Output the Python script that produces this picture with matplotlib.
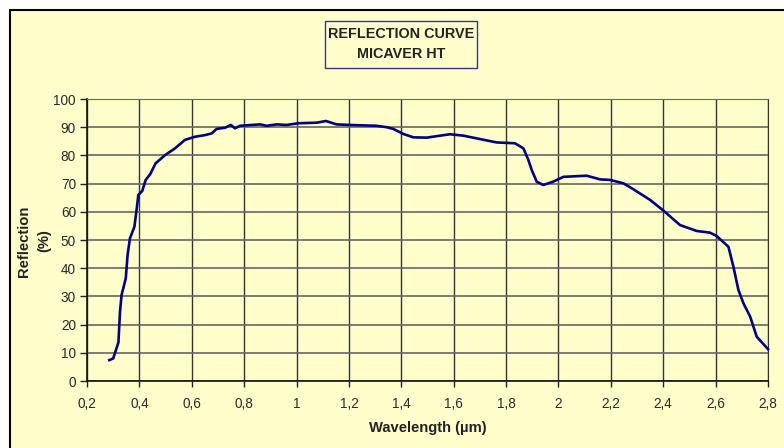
import matplotlib
matplotlib.use("Agg")
import matplotlib.pyplot as plt
from matplotlib.patches import Rectangle

plt.rcParams['font.family'] = ['Liberation Sans', 'DejaVu Sans']

wavelength = [0.285, 0.300, 0.320, 0.326, 0.332, 0.348, 0.355, 0.364, 0.381, 0.390,
              0.396, 0.411, 0.424, 0.441, 0.462, 0.498, 0.536, 0.574, 0.612, 0.651,
              0.676, 0.695, 0.727, 0.749, 0.765, 0.784, 0.861, 0.886, 0.924, 0.962,
              1.007, 1.077, 1.112, 1.153, 1.204, 1.306, 1.344, 1.369, 1.408, 1.446,
              1.497, 1.548, 1.586, 1.637, 1.700, 1.764, 1.834, 1.866, 1.885, 1.898,
              1.917, 1.942, 1.980, 2.019, 2.108, 2.159, 2.197, 2.248, 2.286, 2.350,
              2.401, 2.464, 2.528, 2.579, 2.604, 2.649, 2.668, 2.687, 2.706, 2.732,
              2.757, 2.800]
reflection = [7.4, 8.0, 13.7, 24.6, 30.5, 36.4, 44.7, 50.6, 54.7, 61.2,
              66.0, 67.4, 71.3, 73.3, 77.2, 80.1, 82.5, 85.5, 86.6, 87.2,
              87.8, 89.4, 89.8, 90.8, 89.6, 90.5, 91.0, 90.5, 91.0, 90.8,
              91.4, 91.6, 92.2, 91.0, 90.8, 90.5, 90.0, 89.4, 87.6, 86.4,
              86.3, 87.0, 87.5, 87.0, 85.8, 84.6, 84.3, 82.5, 78.4, 74.8,
              70.7, 69.5, 70.7, 72.4, 72.8, 71.5, 71.3, 70.1, 68.0, 64.2,
              60.4, 55.3, 53.2, 52.6, 51.4, 47.6, 40.5, 32.3, 27.6, 22.8,
              15.7, 11.3]

x_ticks = [0.2, 0.4, 0.6, 0.8, 1.0, 1.2, 1.4, 1.6, 1.8, 2.0, 2.2, 2.4, 2.6, 2.8]
x_tick_labels = ['0,2', '0,4', '0,6', '0,8', '1', '1,2', '1,4', '1,6', '1,8',
                 '2', '2,2', '2,4', '2,6', '2,8']
y_ticks = [0, 10, 20, 30, 40, 50, 60, 70, 80, 90, 100]

W, H = 784, 448
BG = '#FFFFCC'
fig = plt.figure(figsize=(W / 100, H / 100), dpi=100, facecolor='white')

# outer chart area
fig.patches.append(Rectangle((10 / W, -0.1), 1.2, (H - 10) / H + 0.1,
                             transform=fig.transFigure, facecolor=BG,
                             edgecolor='black', linewidth=1.5, zorder=-10))

ax = fig.add_axes([87 / W, (H - 381) / H, (768 - 87) / W, (381 - 99) / H])
ax.set_zorder(1)
ax.set_facecolor(BG)
ax.set_xlim(0.2, 2.8)
ax.set_ylim(0, 100)

for v in x_ticks:
    ax.axvline(v, color='#333333', linewidth=1.0, zorder=1)
for v in y_ticks:
    ax.axhline(v, color='#666666', linewidth=1.2, zorder=1)

ax.plot(wavelength, reflection, color='#000080', linewidth=1.9, zorder=3, clip_on=False)

ax.set_xticks(x_ticks)
ax.set_xticklabels(x_tick_labels)
ax.set_yticks(y_ticks)
ax.tick_params(axis='x', direction='out', length=4, width=1, pad=7.5,
               labelsize=9.8, labelcolor='#2a2a2a', color='#222222')
ax.tick_params(axis='y', direction='out', length=5, width=1, pad=3,
               labelsize=9.8, labelcolor='#2a2a2a', color='#222222')
for side in ['left', 'bottom']:
    ax.spines[side].set_color('#111111')
    ax.spines[side].set_linewidth(1.2)
ax.spines['top'].set_color('#666666')
ax.spines['right'].set_color('#333333')

fig.text(427.5 / W, 1 - 428 / H, 'Wavelength (µm)', ha='center', va='center',
         fontsize=10.6, fontweight='bold', color='#222222')
fig.text(34 / W, 1 - 241 / H, 'Reflection\n(%)', ha='center', va='center',
         rotation=90, fontsize=10.6, fontweight='bold', color='#222222',
         linespacing=1.5, multialignment='center')

# title box
fig.patches.append(Rectangle((325 / W, 1 - 68 / H), 152 / W, 47 / H,
                             transform=fig.transFigure, facecolor=BG,
                             edgecolor='#333399', linewidth=1.0, zorder=2))
fig.text(401 / W, 1 - 34.5 / H, 'REFLECTION CURVE', ha='center', va='center',
         fontsize=10.4, fontweight='bold', color='#222222', zorder=3)
fig.text(401 / W, 1 - 53.5 / H, 'MICAVER HT', ha='center', va='center',
         fontsize=10.4, fontweight='bold', color='#222222', zorder=3)

fig.savefig('out.png', dpi=100, facecolor=fig.get_facecolor())
